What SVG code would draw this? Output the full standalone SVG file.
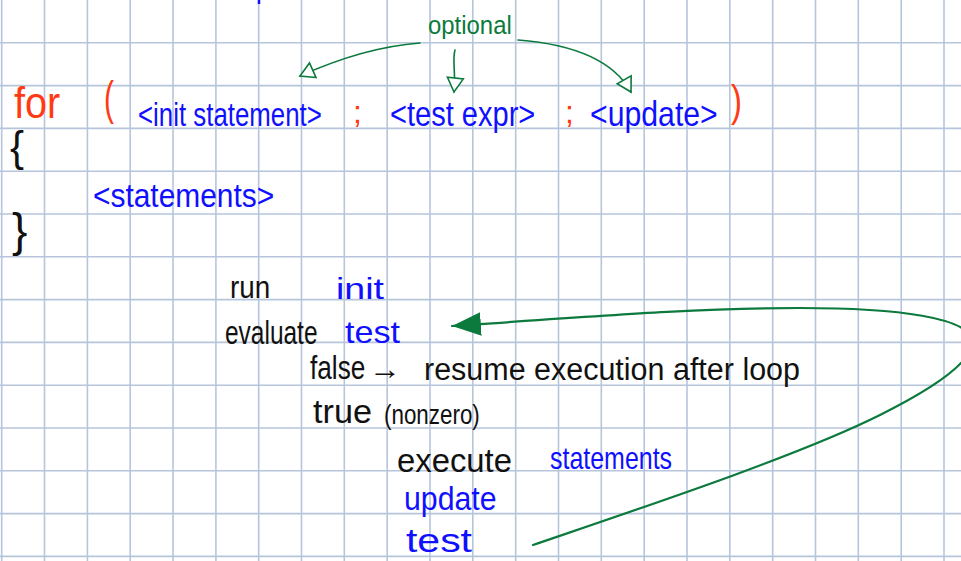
<svg xmlns="http://www.w3.org/2000/svg" width="961" height="561" viewBox="0 0 961 561">
<defs>
<style>
.grid line{stroke:#b6c5dc;stroke-width:1.6}
.t{font-family:"Liberation Sans","Noto Sans",sans-serif}
.red{fill:#ff3a14}
.blue{fill:#1010ff}
.blk{fill:#111}
.grn{fill:#0b7a3c}
.conn{fill:none;stroke:#0b7a3c;stroke-width:1.6;stroke-linecap:round}
.big{fill:none;stroke:#0b7a3c;stroke-width:2.2;stroke-linecap:round}
</style>
<marker id="open" markerUnits="userSpaceOnUse" markerWidth="20" markerHeight="20" refX="14" refY="0" viewBox="-2 -10 18 20" orient="auto">
<path d="M0,-8 L14,0 L0,8 Z" fill="#fff" stroke="#0b7a3c" stroke-width="1.6"/>
</marker>
<marker id="solid" markerUnits="userSpaceOnUse" markerWidth="30" markerHeight="26" refX="27" refY="0" viewBox="0 -12 28 24" orient="auto">
<path d="M0,-11 L27,0 L0,11 Z" fill="#0b7a3c"/>
</marker>
</defs>
<rect width="961" height="561" fill="#fff"/>
<g class="grid" id="grid">
<line x1="1.7" y1="0" x2="1.7" y2="561"/>
<line x1="44.5" y1="0" x2="44.5" y2="561"/>
<line x1="87.4" y1="0" x2="87.4" y2="561"/>
<line x1="130.2" y1="0" x2="130.2" y2="561"/>
<line x1="173" y1="0" x2="173" y2="561"/>
<line x1="215.9" y1="0" x2="215.9" y2="561"/>
<line x1="258.7" y1="0" x2="258.7" y2="561"/>
<line x1="301.5" y1="0" x2="301.5" y2="561"/>
<line x1="344.3" y1="0" x2="344.3" y2="561"/>
<line x1="387.2" y1="0" x2="387.2" y2="561"/>
<line x1="430" y1="0" x2="430" y2="561"/>
<line x1="472.8" y1="0" x2="472.8" y2="561"/>
<line x1="515.7" y1="0" x2="515.7" y2="561"/>
<line x1="558.5" y1="0" x2="558.5" y2="561"/>
<line x1="601.3" y1="0" x2="601.3" y2="561"/>
<line x1="644.2" y1="0" x2="644.2" y2="561"/>
<line x1="687" y1="0" x2="687" y2="561"/>
<line x1="729.8" y1="0" x2="729.8" y2="561"/>
<line x1="772.7" y1="0" x2="772.7" y2="561"/>
<line x1="815.5" y1="0" x2="815.5" y2="561"/>
<line x1="858.3" y1="0" x2="858.3" y2="561"/>
<line x1="901.2" y1="0" x2="901.2" y2="561"/>
<line x1="944" y1="0" x2="944" y2="561"/>
<line x1="0" y1="42.8" x2="961" y2="42.8"/>
<line x1="0" y1="85.6" x2="961" y2="85.6"/>
<line x1="0" y1="128.4" x2="961" y2="128.4"/>
<line x1="0" y1="171.2" x2="961" y2="171.2"/>
<line x1="0" y1="214" x2="961" y2="214"/>
<line x1="0" y1="256.8" x2="961" y2="256.8"/>
<line x1="0" y1="299.6" x2="961" y2="299.6"/>
<line x1="0" y1="342.4" x2="961" y2="342.4"/>
<line x1="0" y1="385.2" x2="961" y2="385.2"/>
<line x1="0" y1="428" x2="961" y2="428"/>
<line x1="0" y1="470.8" x2="961" y2="470.8"/>
<line x1="0" y1="513.6" x2="961" y2="513.6"/>
<line x1="0" y1="556.4" x2="961" y2="556.4"/>
</g>
<line x1="259" y1="0" x2="259" y2="4" stroke="#1010ff" stroke-width="2.5"/>
<g id="connectors">
<path class="conn" d="M420,43 C380,46 340,58 300,76" marker-end="url(#open)"/>
<path class="conn" d="M455,50 C452,60 456,72 454,92" marker-end="url(#open)"/>
<path class="conn" d="M518,40 C570,44 612,58 631,92" marker-end="url(#open)"/>
<path class="big" d="M533,545 C650,505 800,455 880,415 C930,390 975,362 972,340 C968,318 900,308 800,308 C700,308 600,316 452,326" marker-end="url(#solid)"/>
</g>
<g id="header">
<text class="t red" transform="translate(14,118) scale(0.9,1)" font-size="44">for</text>
<text class="t red" transform="translate(104,114) scale(0.65,1)" font-size="46">(</text>
<text class="t blue" transform="translate(138,126) scale(0.76,1)" font-size="34">&lt;init statement&gt;</text>
<text class="t red" x="353" y="123" font-size="32">;</text>
<text class="t blue" transform="translate(390,126) scale(0.83,1)" font-size="35">&lt;test expr&gt;</text>
<text class="t red" x="565" y="123" font-size="32">;</text>
<text class="t blue" transform="translate(590,126) scale(0.84,1)" font-size="36">&lt;update&gt;</text>
<text class="t red" transform="translate(731,116) scale(0.75,1)" font-size="44">)</text>
</g>
<g id="optional">
<text class="t grn" transform="translate(428,34) scale(0.92,1)" font-size="26">optional</text>
</g>
<g id="body">
<text class="t blk" x="10" y="161" font-size="42">{</text>
<text class="t blue" transform="translate(93,207) scale(0.88,1)" font-size="34">&lt;statements&gt;</text>
<text class="t blk" x="12" y="246" font-size="46">}</text>
</g>
<g id="steps">
<text class="t blk" transform="translate(230,298) scale(0.87,1)" font-size="32">run</text>
<text class="t blue" x="336" y="299" font-size="29" textLength="48" lengthAdjust="spacingAndGlyphs">init</text>
<text class="t blk" transform="translate(225,344) scale(0.72,1)" font-size="34">evaluate</text>
<text class="t blue" x="345" y="343" font-size="32" textLength="55" lengthAdjust="spacingAndGlyphs">test</text>
<text class="t blk" transform="translate(310,379) scale(0.77,1)" font-size="34">false</text>
<text class="t blk" x="369" y="379" font-size="30" textLength="32" lengthAdjust="spacingAndGlyphs">→</text>
<text class="t blk" x="424" y="380" font-size="31" textLength="376" lengthAdjust="spacingAndGlyphs">resume execution after loop</text>
<text class="t blk" x="313" y="423" font-size="34" textLength="59" lengthAdjust="spacingAndGlyphs">true</text>
<text class="t blk" transform="translate(384,424) scale(0.8,1)" font-size="28">(nonzero)</text>
<text class="t blk" x="397" y="472" font-size="34" textLength="115" lengthAdjust="spacingAndGlyphs">execute</text>
<text class="t blue" transform="translate(550,469) scale(0.78,1)" font-size="32">statements</text>
<text class="t blue" transform="translate(404,510) scale(0.89,1)" font-size="34">update</text>
<text class="t blue" x="406" y="552" font-size="34" textLength="66" lengthAdjust="spacingAndGlyphs">test</text>
</g>
</svg>
